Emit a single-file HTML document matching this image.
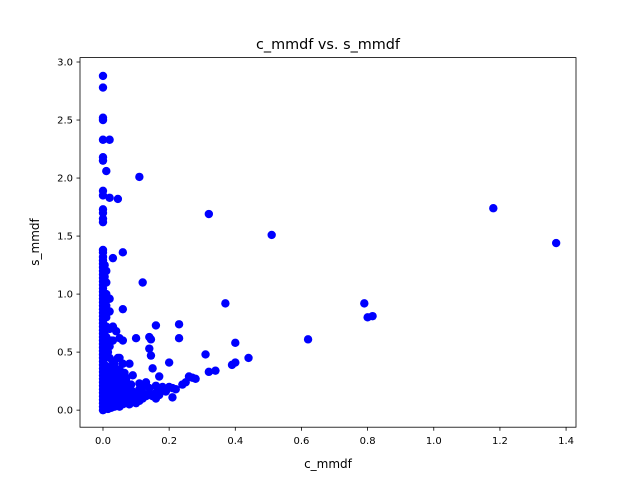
<!DOCTYPE html>
<html><head><meta charset="utf-8"><style>
html,body{margin:0;padding:0;background:#fff;}
svg{display:block;font-family:"DejaVu Sans","Liberation Sans",sans-serif;}
</style></head><body>
<svg id="chart" width="640" height="480">
<rect width="640" height="480" fill="#fff"/>
<text x="328" y="49" text-anchor="middle" font-size="14.4">c_mmdf vs. s_mmdf</text>
<g id="marks"></g>
<g id="xticks"></g>
<g id="yticks"></g>
<rect x="80" y="57.6" width="496" height="369.6" fill="none" stroke="#000" stroke-width="0.8"/>
<text x="328" y="468" text-anchor="middle" font-size="12">c_mmdf</text>
<text transform="translate(39,242) rotate(-90)" text-anchor="middle" font-size="12">s_mmdf</text>
</svg>
<script>
const xVals=[0,0,0,0,0,0,0,0.01,0,0,0,0,0,0,0,0,0.02,0.02,0.045,0.11,0.32,0.51,1.18,1.37,0.62,0.79,0.80,0.815,0.37,0.40,0.44,0.39,0.40,0.31,0.32,0.34,0.23,0.23,0.16,0.14,0.145,0.14,0.145,0.12,0.06,0.06,0.03,0.1,0.2,0.21,0.27,0.26,0.25,0.28,0.15,0.17,
0,0,0,0,0,0,0,0,0,0,0,0,0,0,0,0,0,0,0,0,0,0,0,0,0,0,0,0,0,0,0,0,0,0,0,0,0,0,0,0,0,0,0,0,0,
0.01,0.01,0.01,0.01,0.01,0.01,0.01,0.01,0.01,0.01,0.01,0.01,0.01,0.01,0.01,0.02,0.02,0.02,0.02,0.02,0.02,0.02,0.02,0.02,0.02,0.03,0.03,0.03,0.03,0.03,0.03,0.03,0.04,0.04,0.04,0.04,0.04,0.05,0.05,0.05,0.05,0.06,0.06,0.06,0.06,0.07,0.07,0.07,0.08,0.08,0.08,0.09,0.09,0.1,0.1,0.11,0.11,0.12,0.12,0.13,0.13,0.14,0.15,0.16,0.17,0.18,0.19,0.2,0.22,0.24,0.09,0.06,0.04,0.03,0.08,0.07,0.05,0.11,0.13,0.03,0.02,0.05,0.04,0.08,0.18,0.16,0.12,0.1,
0.015,0.025,0.035,0.045,0.055,0.065,0.075,0.085,0.095,0.105,0.115,0.125,0.135,0.015,0.025,0.035,0.045,0.055,0.065,0.075,0.085,0.095,0.105,0.015,0.025,0.035,0.045,0.055,0.065,0.075,0.085,0.015,0.025,0.035,0.045,0.055,0.065,0.015,0.025,0.035,0.045,0.015,0.025,0.005,0.005,0.005,0.005,0.005,0.005,0.005,0.005,0.005,0.005,0.15,0.17,0.19,0.21,0.14,0.16];
const yVals=[2.88,2.78,2.52,2.50,2.33,2.18,2.15,2.06,1.89,1.85,1.73,1.70,1.65,1.62,1.38,1.36,2.33,1.83,1.82,2.01,1.69,1.51,1.74,1.44,0.61,0.92,0.80,0.81,0.92,0.58,0.45,0.39,0.41,0.48,0.33,0.34,0.74,0.62,0.73,0.63,0.61,0.53,0.47,1.10,1.36,0.87,1.31,0.62,0.41,0.11,0.28,0.29,0.24,0.27,0.36,0.29,
0,0.03,0.06,0.09,0.12,0.15,0.18,0.21,0.24,0.27,0.3,0.33,0.36,0.39,0.42,0.45,0.48,0.51,0.54,0.57,0.6,0.63,0.66,0.69,0.72,0.75,0.78,0.81,0.84,0.87,0.9,0.93,0.96,0.99,1.02,1.05,1.08,1.11,1.14,1.17,1.2,1.23,1.26,1.29,1.32,
0.02,0.08,0.15,0.22,0.3,0.38,0.46,0.55,0.63,0.72,0.8,0.9,1.0,1.1,1.2,0.03,0.1,0.18,0.26,0.35,0.45,0.55,0.7,0.85,0.96,0.04,0.12,0.2,0.3,0.42,0.6,0.72,0.05,0.13,0.22,0.33,0.68,0.03,0.1,0.2,0.45,0.05,0.12,0.25,0.6,0.06,0.15,0.28,0.05,0.12,0.2,0.08,0.16,0.06,0.14,0.08,0.18,0.1,0.2,0.12,0.22,0.14,0.12,0.15,0.13,0.18,0.16,0.2,0.18,0.22,0.3,0.4,0.26,0.38,0.22,0.27,0.35,0.23,0.24,0.21,0.58,0.62,0.16,0.4,0.2,0.1,0.15,0.14,
0.01,0.02,0.03,0.04,0.05,0.06,0.07,0.08,0.09,0.1,0.11,0.12,0.13,0.06,0.07,0.08,0.09,0.1,0.11,0.12,0.13,0.14,0.15,0.12,0.14,0.15,0.17,0.18,0.2,0.21,0.22,0.2,0.24,0.26,0.28,0.3,0.32,0.3,0.35,0.4,0.45,0.5,0.6,0.05,0.15,0.25,0.35,0.5,0.65,0.8,0.95,1.15,1.25,0.13,0.15,0.17,0.19,0.19,0.21];
const xTickVals=[0,0.2,0.4,0.6,0.8,1.0,1.2,1.4];
const xTickLabels=["0.0","0.2","0.4","0.6","0.8","1.0","1.2","1.4"];
const yTickVals=[0,0.5,1.0,1.5,2.0,2.5,3.0];
const yTickLabels=["0.0","0.5","1.0","1.5","2.0","2.5","3.0"];
const NS="http://www.w3.org/2000/svg";
const X0=80,X1=576,Y0=427.2,Y1=57.6,xmin=-0.0695,xmax=1.43,ymin=-0.147,ymax=3.038;
function sx(v){return X0+(v-xmin)/(xmax-xmin)*(X1-X0);}
function sy(v){return Y0-(v-ymin)/(ymax-ymin)*(Y0-Y1);}
const marks=document.getElementById('marks');
for(let i=0;i<xVals.length;i++){
 const c=document.createElementNS(NS,'circle');
 c.setAttribute('cx',sx(xVals[i]));c.setAttribute('cy',sy(yVals[i]));c.setAttribute('r',4.2);c.setAttribute('fill','#0000ff');
 
 
 marks.appendChild(c);
}
const xg=document.getElementById('xticks');
xTickVals.forEach((v,i)=>{
 const l=document.createElementNS(NS,'line');
 l.setAttribute('x1',sx(v));l.setAttribute('x2',sx(v));l.setAttribute('y1',Y0);l.setAttribute('y2',Y0+3.5);l.setAttribute('stroke','#000');l.setAttribute('stroke-width','0.8');
 
 
 xg.appendChild(l);
 const t=document.createElementNS(NS,'text');
 t.setAttribute('x',sx(v));t.setAttribute('y',Y0+17);t.setAttribute('text-anchor','middle');t.setAttribute('font-size','10');t.textContent=xTickLabels[i];
 
 
 xg.appendChild(t);
});
const yg=document.getElementById('yticks');
yTickVals.forEach((v,i)=>{
 const l=document.createElementNS(NS,'line');
 l.setAttribute('x1',X0-3.5);l.setAttribute('x2',X0);l.setAttribute('y1',sy(v));l.setAttribute('y2',sy(v));l.setAttribute('stroke','#000');l.setAttribute('stroke-width','0.8');
 
 
 yg.appendChild(l);
 const t=document.createElementNS(NS,'text');
 t.setAttribute('x',X0-7);t.setAttribute('y',sy(v)+3.5);t.setAttribute('text-anchor','end');t.setAttribute('font-size','10');t.textContent=yTickLabels[i];
 
 
 yg.appendChild(t);
});
</script>
</body></html>
